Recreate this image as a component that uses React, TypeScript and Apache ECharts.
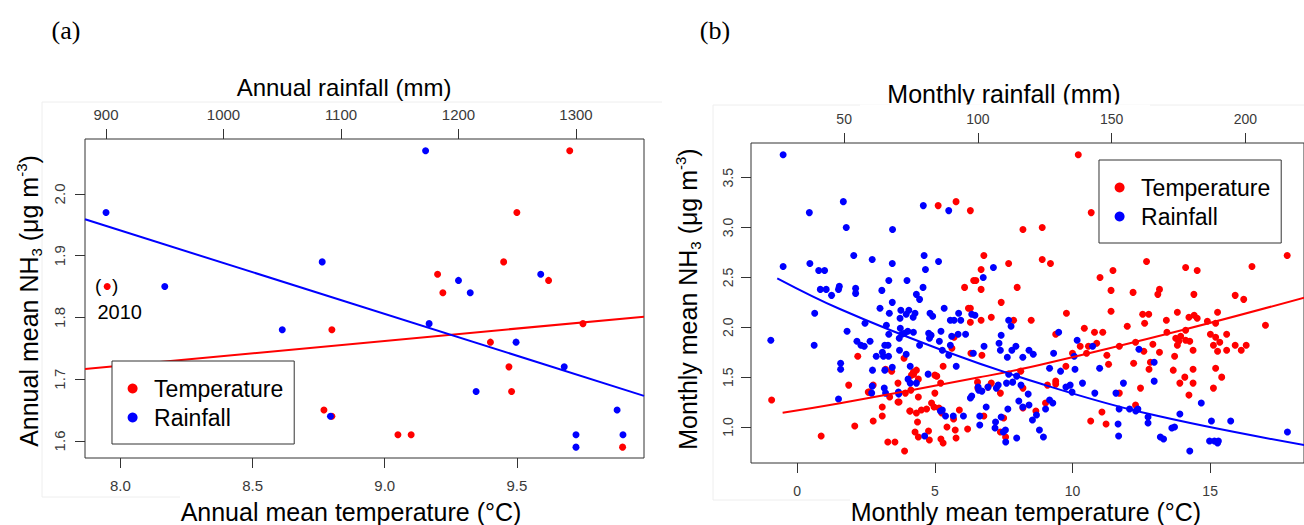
import { useEffect, useRef } from 'react';
import * as echarts from 'echarts';

// ---------- Panel (a): annual values ----------
const annualTemperature = [7.95, 9.70, 9.50, 9.45, 9.20, 9.22, 9.62, 8.80, 9.75, 9.40, 9.47, 9.48, 8.77, 8.80, 9.05, 9.10, 9.90];
const annualTemperatureNH3 = [1.85, 2.07, 1.97, 1.89, 1.87, 1.84, 1.86, 1.78, 1.79, 1.76, 1.72, 1.68, 1.65, 1.64, 1.61, 1.61, 1.59];
const annualRainfall = [900, 1172, 950, 1084, 1050, 1200, 1210, 1270, 1175, 1249, 1290, 1215, 1091, 1335, 1300, 1340, 1300];
const annualRainfallNH3 = [1.97, 2.07, 1.85, 1.89, 1.78, 1.86, 1.84, 1.87, 1.79, 1.76, 1.72, 1.68, 1.64, 1.65, 1.61, 1.61, 1.59];

const annualTempFitX = [7.866, 9.981];
const annualTempFitY = [1.7166, 1.8013];
const annualRainFitX = [882.1, 1357.9];
const annualRainFitY = [1.959, 1.673];

const annualTempRange = [7.866, 9.981];
const annualRainRange = [882.1, 1357.9];
const annualNH3Range = [1.5724, 2.089];
const annualTempTicks = [8.0, 8.5, 9.0, 9.5];
const annualRainTicks = [900, 1000, 1100, 1200, 1300];
const annualNH3Ticks = [1.6, 1.7, 1.8, 1.9, 2.0];
const highlightedYear = { label: '2010', temperature: 7.95, nh3: 1.85 };

// ---------- Panel (b): monthly values ----------
const monthlyTemperature: [number, number][] = [
  [10.21, 3.73], [5.12, 3.22], [5.77, 3.26], [6.29, 3.17], [10.68, 3.15], [8.20, 2.98], [8.90, 3.00],
  [17.80, 2.72], [6.78, 2.72], [7.68, 2.64], [8.90, 2.68], [9.20, 2.64], [12.69, 2.66], [14.11, 2.60],
  [14.53, 2.57], [11.47, 2.57], [16.52, 2.61], [6.68, 2.58], [6.41, 2.47], [6.49, 2.47], [6.08, 2.40],
  [6.68, 2.38], [7.99, 2.40], [11.00, 2.50], [11.40, 2.37], [12.20, 2.35], [13.16, 2.38], [13.10, 2.33],
  [14.41, 2.33], [15.91, 2.32], [16.22, 2.28], [7.41, 2.25], [17.01, 2.02], [6.22, 2.19], [6.29, 2.19],
  [9.78, 2.14], [11.40, 2.16], [12.55, 2.13], [12.77, 2.13], [13.41, 2.07], [13.81, 2.15], [14.23, 2.10],
  [14.42, 2.12], [14.53, 2.09], [14.90, 2.06], [15.27, 2.15], [15.20, 2.04], [6.68, 2.07], [7.05, 2.10],
  [7.86, 2.07], [8.50, 2.07], [10.43, 1.99], [10.80, 1.95], [11.10, 1.95], [11.99, 2.01], [12.62, 2.04],
  [13.43, 1.95], [14.11, 1.97], [15.01, 1.93], [15.60, 1.93], [13.75, 1.89], [13.86, 1.86], [13.93, 1.91],
  [14.11, 1.87], [14.26, 1.86], [15.20, 1.90], [15.12, 1.82], [15.35, 1.85], [15.27, 1.76], [15.60, 1.77],
  [15.91, 1.82], [16.31, 1.82], [16.13, 1.77], [13.81, 1.82], [14.38, 1.77], [13.71, 1.71], [12.29, 1.85],
  [12.59, 1.76], [12.92, 1.83], [13.16, 1.75], [11.25, 1.72], [11.31, 1.63], [11.70, 1.81], [10.88, 1.84],
  [10.58, 1.81], [10.28, 1.81], [10.00, 1.74], [10.51, 1.74], [9.76, 1.61], [9.39, 1.93], [6.29, 2.05],
  [5.70, 1.90], [6.31, 1.74], [6.71, 1.72], [12.22, 1.64], [12.83, 1.65], [12.78, 1.58], [13.66, 1.57],
  [13.90, 1.44], [14.08, 1.50], [14.38, 1.44], [14.38, 1.58], [15.20, 1.59], [15.42, 1.50], [15.12, 1.39],
  [14.23, 1.32], [12.47, 1.39], [12.29, 1.22], [11.70, 1.34], [11.07, 1.15], [11.22, 1.03], [10.66, 1.06],
  [9.02, 1.24], [9.39, 1.46], [9.39, 1.43], [9.09, 1.42], [8.67, 1.16], [8.20, 1.39], [8.20, 1.19],
  [8.12, 1.56], [7.57, 0.90], [7.50, 1.09], [7.38, 1.34], [7.05, 1.44], [6.93, 1.40], [6.78, 1.11],
  [6.56, 1.39], [6.55, 1.45], [7.38, 0.95], [5.89, 1.17], [5.68, 1.08], [5.74, 0.97], [5.77, 0.89],
  [6.19, 0.98], [5.44, 1.00], [5.30, 0.84], [5.22, 0.88], [5.25, 1.14], [4.88, 1.24], [4.97, 1.20],
  [5.15, 1.19], [5.00, 1.34], [5.30, 1.61], [5.07, 1.51], [5.00, 1.52], [5.21, 1.44], [4.85, 1.92],
  [5.62, 1.79], [4.80, 0.87], [4.77, 0.96], [4.70, 1.18], [4.51, 1.17], [4.40, 0.90], [4.28, 0.95],
  [4.37, 1.05], [4.33, 1.14], [4.10, 1.16], [4.13, 1.37], [4.22, 1.55], [4.33, 1.57], [4.40, 1.48],
  [4.15, 1.52], [3.88, 1.69], [3.90, 0.76], [3.93, 1.34], [3.66, 1.44], [3.66, 1.25], [3.55, 0.85],
  [3.29, 0.85], [3.43, 1.56], [3.21, 1.58], [3.36, 1.30], [3.09, 1.20], [3.09, 1.11], [2.76, 1.06],
  [2.76, 1.42], [2.62, 1.35], [2.09, 1.01], [2.20, 1.71], [1.87, 1.42], [0.87, 0.91], [-0.93, 1.27],
  [4.09, 1.16], [4.23, 1.53], [4.40, 1.30], [3.70, 1.25], [2.58, 1.35],
];

const monthlyRainfall: [number, number][] = [
  [27.2, 3.73], [49.7, 3.26], [37.0, 3.15], [50.8, 3.00], [68.1, 2.98], [79.6, 3.22], [89.1, 3.17],
  [27.2, 2.61], [37.2, 2.64], [53.6, 2.72], [60.5, 2.68], [68.0, 2.64], [79.9, 2.72], [85.3, 2.66],
  [80.4, 2.58], [40.5, 2.57], [42.7, 2.57], [105.8, 2.60], [102.0, 2.50], [41.1, 2.38], [43.3, 2.38],
  [45.3, 2.32], [47.9, 2.38], [48.2, 2.41], [54.3, 2.39], [54.3, 2.34], [64.1, 2.37], [66.7, 2.47],
  [73.5, 2.47], [77.0, 2.33], [78.2, 2.28], [79.5, 2.40], [68.0, 2.25], [63.4, 2.19], [66.9, 2.14],
  [71.2, 2.17], [73.2, 2.13], [74.2, 2.17], [76.5, 2.14], [75.8, 2.10], [70.9, 2.09], [82.1, 2.14],
  [83.1, 2.11], [87.4, 2.19], [89.7, 2.07], [91.1, 2.07], [92.8, 2.14], [93.6, 2.07], [97.7, 2.13],
  [98.9, 2.12], [39.0, 2.14], [57.8, 2.04], [51.1, 1.96], [54.8, 1.86], [56.3, 1.82], [57.5, 1.81],
  [59.7, 1.86], [62.0, 1.71], [64.7, 1.71], [65.2, 1.82], [65.8, 2.02], [64.3, 1.75], [66.7, 1.93],
  [70.6, 1.89], [71.6, 1.93], [72.6, 1.94], [73.8, 1.96], [71.0, 1.99], [75.9, 1.95], [78.2, 1.82],
  [81.6, 1.94], [82.5, 1.92], [81.9, 1.89], [85.6, 1.86], [86.2, 1.96], [90.2, 1.91], [92.6, 1.93],
  [95.4, 1.93], [89.7, 1.82], [86.7, 1.77], [89.1, 1.72], [91.9, 1.61], [73.2, 1.73], [98.3, 1.74],
  [102.3, 1.81], [108.7, 1.92], [107.9, 1.84], [111.5, 2.07], [112.4, 2.01], [108.4, 1.77], [112.7, 1.77],
  [111.0, 1.70], [116.8, 1.70], [119.1, 1.77], [120.7, 1.73], [114.2, 1.81], [128.3, 1.74], [130.2, 1.95],
  [126.8, 1.59], [130.9, 1.56], [137.1, 1.87], [142.9, 1.81], [136.3, 1.58], [145.5, 1.59], [139.1, 1.44],
  [143.7, 1.34], [134.5, 1.42], [135.2, 1.35], [132.9, 1.40], [126.8, 1.27], [128.0, 1.24], [125.3, 1.18],
  [121.9, 1.12], [120.4, 1.07], [123.0, 0.97], [124.5, 0.90], [114.5, 0.89], [119.1, 1.22], [115.3, 1.26],
  [116.8, 1.20], [118.8, 1.33], [116.1, 1.42], [114.5, 1.51], [111.5, 1.53], [110.7, 1.44], [113.0, 1.45],
  [106.9, 1.39], [111.2, 1.18], [110.4, 0.85], [106.6, 1.05], [108.7, 1.10], [109.5, 0.95], [106.4, 0.99],
  [107.6, 1.42], [103.8, 1.40], [101.5, 1.36], [103.1, 1.20], [100.3, 1.37], [100.1, 1.40], [100.7, 1.02],
  [100.7, 1.11], [97.7, 1.31], [97.2, 1.29], [94.6, 1.11], [90.8, 1.11], [87.9, 1.11], [86.7, 1.17],
  [86.0, 1.16], [80.1, 0.91], [77.0, 1.44], [74.7, 1.44], [73.9, 1.48], [81.4, 1.53], [70.3, 1.35],
  [70.4, 1.33], [68.0, 1.60], [65.0, 1.39], [65.2, 1.57], [60.6, 1.57], [60.5, 1.41], [60.3, 1.34],
  [65.5, 1.34], [70.7, 1.77], [48.7, 1.64], [48.7, 1.58], [47.9, 1.28], [38.8, 1.82], [22.6, 1.87],
  [66.4, 1.82], [66.6, 1.71], [74.7, 1.61], [151.6, 1.34], [154.4, 1.44], [152.8, 1.18], [152.4, 1.03],
  [152.6, 0.91], [156.7, 1.18], [159.0, 1.16], [159.8, 1.18], [163.6, 1.10], [163.6, 1.04], [160.2, 1.78],
  [165.9, 1.65], [165.9, 1.46], [168.2, 0.90], [169.4, 0.88], [172.5, 0.99], [173.5, 1.00], [175.5, 1.13],
  [179.2, 0.76], [183.5, 1.24], [187.3, 1.06], [188.4, 0.86], [189.6, 0.84], [189.9, 0.86], [194.5, 1.06],
  [215.7, 0.95], [186.6, 0.86], [136.0, 1.71], [110.3, 0.97],
];

const monthlyTempFitX = [-0.53, 1.55, 6.62, 8.80, 14.0, 18.45];
const monthlyTempFitY = [1.143, 1.238, 1.498, 1.622, 1.973, 2.30];
const monthlyRainFitX = [25.0, 48.4, 85.7, 123.0, 162.9, 222.5];
const monthlyRainFitY = [2.491, 2.183, 1.78, 1.438, 1.137, 0.816];

const monthlyTempRange = [-1.679, 18.41];
const monthlyRainRange = [15.19, 221.9];
const monthlyNH3Range = [0.639, 3.848];
const monthlyTempTicks = [0, 5, 10, 15];
const monthlyRainTicks = [50, 100, 150, 200];
const monthlyNH3Ticks = [1.0, 1.5, 2.0, 2.5, 3.0, 3.5];

const RED = '#ff0000';
const BLUE = '#0000ff';
const SANS = '"Liberation Sans", Arial, Helvetica, sans-serif';
const SERIF = '"Liberation Serif", "Times New Roman", serif';
const TICK_COLOR = '#3a3a3a';

function valueAxis(o: {
  gridIndex: number; position: string; range: number[]; ticks: number[];
  digits: number; fontSize: number; margin: number; rotate?: number;
}) {
  return {
    type: 'value',
    gridIndex: o.gridIndex,
    position: o.position,
    min: o.range[0],
    max: o.range[1],
    axisLine: { show: false, onZero: false },
    axisTick: {
      show: true, inside: false, length: 10, customValues: o.ticks,
      lineStyle: { color: '#333', width: 1 },
    },
    axisLabel: {
      show: true, customValues: o.ticks, margin: o.margin, rotate: o.rotate || 0,
      fontSize: o.fontSize, fontFamily: SANS, color: TICK_COLOR,
      formatter: (v: number) => v.toFixed(o.digits),
    },
    splitLine: { show: false },
  };
}

function legendBox(left: number, top: number) {
  return {
    data: ['Temperature', 'Rainfall'],
    orient: 'vertical',
    left, top,
    padding: [16, 11, 15, 15.6],
    itemGap: 6,
    itemWidth: 33,
    itemHeight: 10,
    icon: 'circle',
    backgroundColor: '#ffffff',
    borderColor: '#333333',
    borderWidth: 1,
    borderRadius: 0,
    selectedMode: false,
    textStyle: { fontSize: 23, lineHeight: 22, fontFamily: SANS, color: '#000' },
  };
}

function txt(id: string, x: number, y: number, text: string, fontSize: number, extra: any = {}) {
  return {
    type: 'text', id, x, y, z: 50, silent: true,
    rotation: extra.rotation || 0,
    style: {
      text, fill: extra.fill || '#000', fontSize, fontFamily: extra.fontFamily || SANS,
      align: 'center', verticalAlign: 'middle', textAlign: 'center', textVerticalAlign: 'middle',
      rich: extra.rich,
    },
  };
}

const nh3Rich = {
  a: { fontSize: 25, fontFamily: SANS, color: '#000', lineHeight: 30 },
  sub: { fontSize: 15, fontFamily: SANS, color: '#000', verticalAlign: 'bottom', lineHeight: 15 },
  sup: { fontSize: 15, fontFamily: SANS, color: '#000', verticalAlign: 'top', lineHeight: 15 },
};

export default function App() {
  const ref = useRef<HTMLDivElement>(null);

  useEffect(() => {
    document.body.style.margin = '0';
    const chart = echarts.init(ref.current!, null, { renderer: 'svg' });

    const scatterStyle = (color: string) => ({ color, opacity: 1 });

    const option: any = {
      animation: false,
      backgroundColor: '#ffffff',
      grid: [
        { left: 85, top: 139, width: 559, height: 319, show: true, borderColor: '#333', borderWidth: 1, backgroundColor: 'transparent' },
        { left: 751, top: 143, width: 554, height: 320, show: true, borderColor: '#333', borderWidth: 1, backgroundColor: 'transparent' },
      ],
      xAxis: [
        valueAxis({ gridIndex: 0, position: 'bottom', range: annualTempRange, ticks: annualTempTicks, digits: 1, fontSize: 15, margin: 20 }),
        valueAxis({ gridIndex: 0, position: 'top', range: annualRainRange, ticks: annualRainTicks, digits: 0, fontSize: 15, margin: 17 }),
        valueAxis({ gridIndex: 1, position: 'bottom', range: monthlyTempRange, ticks: monthlyTempTicks, digits: 0, fontSize: 14, margin: 21 }),
        valueAxis({ gridIndex: 1, position: 'top', range: monthlyRainRange, ticks: monthlyRainTicks, digits: 0, fontSize: 14, margin: 17 }),
      ],
      yAxis: [
        valueAxis({ gridIndex: 0, position: 'left', range: annualNH3Range, ticks: annualNH3Ticks, digits: 1, fontSize: 15, margin: 18, rotate: 90 }),
        valueAxis({ gridIndex: 1, position: 'left', range: monthlyNH3Range, ticks: monthlyNH3Ticks, digits: 1, fontSize: 14, margin: 16, rotate: 90 }),
      ],
      legend: [legendBox(112, 361), legendBox(1099, 160)],
      series: [
        {
          name: 'Temperature', type: 'scatter', xAxisIndex: 0, yAxisIndex: 0, symbolSize: 7,
          itemStyle: scatterStyle(RED), data: annualTemperature.map((t, i) => [t, annualTemperatureNH3[i]]),
        },
        {
          name: 'Rainfall', type: 'scatter', xAxisIndex: 1, yAxisIndex: 0, symbolSize: 7,
          itemStyle: scatterStyle(BLUE), data: annualRainfall.map((r, i) => [r, annualRainfallNH3[i]]),
        },
        {
          name: 'Temperature fit (annual)', type: 'line', xAxisIndex: 0, yAxisIndex: 0, symbol: 'none', silent: true,
          lineStyle: { color: RED, width: 2 }, data: annualTempFitX.map((x, i) => [x, annualTempFitY[i]]),
        },
        {
          name: 'Rainfall fit (annual)', type: 'line', xAxisIndex: 1, yAxisIndex: 0, symbol: 'none', silent: true,
          lineStyle: { color: BLUE, width: 2 }, data: annualRainFitX.map((x, i) => [x, annualRainFitY[i]]),
        },
        {
          name: 'Temperature', type: 'scatter', xAxisIndex: 2, yAxisIndex: 1, symbolSize: 7,
          itemStyle: scatterStyle(RED), data: monthlyTemperature,
        },
        {
          name: 'Rainfall', type: 'scatter', xAxisIndex: 3, yAxisIndex: 1, symbolSize: 7,
          itemStyle: scatterStyle(BLUE), data: monthlyRainfall,
        },
        {
          name: 'Temperature fit (monthly)', type: 'line', xAxisIndex: 2, yAxisIndex: 1, symbol: 'none', silent: true,
          smooth: 0.4, clip: true,
          lineStyle: { color: RED, width: 2 }, data: monthlyTempFitX.map((x, i) => [x, monthlyTempFitY[i]]),
        },
        {
          name: 'Rainfall fit (monthly)', type: 'line', xAxisIndex: 3, yAxisIndex: 1, symbol: 'none', silent: true,
          smooth: 0.4, clip: true,
          lineStyle: { color: BLUE, width: 2 }, data: monthlyRainFitX.map((x, i) => [x, monthlyRainFitY[i]]),
        },
      ],
    };

    chart.setOption(option);

    const p = chart.convertToPixel({ xAxisIndex: 0, yAxisIndex: 0 }, [highlightedYear.temperature, highlightedYear.nh3]) as number[];

    const faint = { stroke: '#eeeeee', lineWidth: 1 };
    const graphic: any[] = [
      { type: 'line', id: 'fa1', z: 1, silent: true, shape: { x1: 42, y1: 102, x2: 662, y2: 102 }, style: faint },
      { type: 'line', id: 'fa2', z: 1, silent: true, shape: { x1: 42, y1: 102, x2: 42, y2: 497 }, style: faint },
      { type: 'line', id: 'fa3', z: 1, silent: true, shape: { x1: 42, y1: 497, x2: 180, y2: 497 }, style: faint },
      { type: 'line', id: 'fb1', z: 1, silent: true, shape: { x1: 713, y1: 105, x2: 1304, y2: 105 }, style: faint },
      { type: 'line', id: 'fb2', z: 1, silent: true, shape: { x1: 713, y1: 105, x2: 713, y2: 500 }, style: faint },
      { type: 'line', id: 'fb3', z: 1, silent: true, shape: { x1: 713, y1: 500, x2: 850, y2: 500 }, style: faint },

      txt('labA', 66, 30, '(a)', 26, { fontFamily: SERIF }),
      txt('labB', 715, 30, '(b)', 26, { fontFamily: SERIF }),

      txt('topA', 344, 87, 'Annual rainfall (mm)', 24),
      txt('botA', 351, 512, 'Annual mean temperature (°C)', 25),
      txt('yA', 29, 301, '{a|Annual mean NH}{sub|3}{a| (μg m}{sup|-3}{a|)}', 25, { rotation: Math.PI / 2, rich: nh3Rich }),

      txt('topB', 1004, 94, 'Monthly rainfall (mm)', 25),
      { type: 'rect', id: 'clipB', z: 60, silent: true, shape: { x: 860, y: 104.6, width: 290, height: 4 }, style: { fill: '#ffffff' } },
      txt('botB', 1026, 512, 'Monthly mean temperature (°C)', 25),
      txt('yB', 688, 299, '{a|Monthly mean NH}{sub|3}{a| (μg m}{sup|-3}{a|)}', 25, { rotation: Math.PI / 2, rich: nh3Rich }),

      txt('brL', p[0] - 9, p[1] - 1.5, '(', 19),
      txt('brR', p[0] + 8, p[1] - 1.5, ')', 19),
      txt('yr', p[0] + 12.5, p[1] + 25, highlightedYear.label, 20),
    ];

    chart.setOption({ graphic });

    return () => chart.dispose();
  }, []);

  return (
    <div
      ref={ref}
      style={{ position: 'fixed', left: 0, top: 0, width: 1304, height: 525, background: '#ffffff' }}
    />
  );
}
